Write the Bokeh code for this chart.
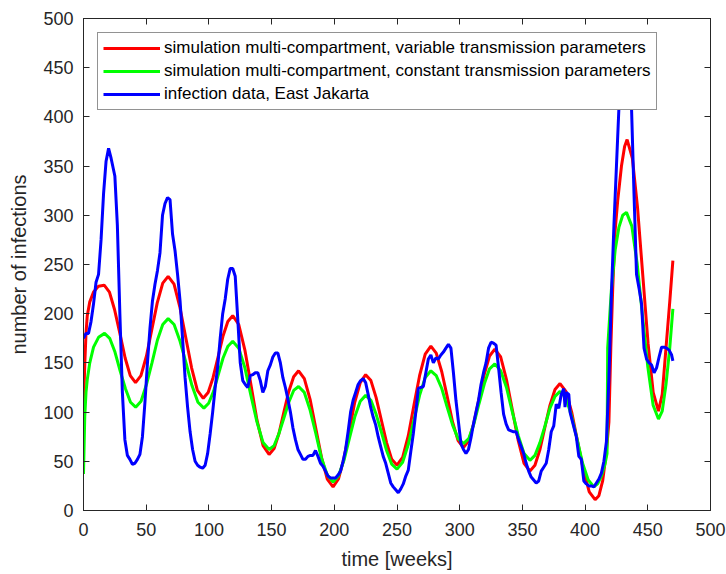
from bokeh.plotting import figure
from bokeh.models import LinearAxis, Range1d, FixedTicker, CustomJSTickFormatter
from bokeh.embed import file_html
from bokeh.resources import INLINE

# ---------------- data ----------------
red_weeks = [0, 1, 2, 3, 5, 8, 12, 16.5,
             20.7, 24.8, 29, 33.2, 37.3, 41.5,
             45.8, 50.2, 54.5, 58.8, 63.2, 67.5,
             72.2, 76.8, 81.5, 86.2, 90.8, 95.5,
             99.4, 103.3, 107.3, 111.2, 115.1, 119,
             123.8, 128.7, 133.5, 138.3, 143.2, 148,
             152, 155.8, 159.8, 163.7, 167.6, 171.5,
             176.1, 180.7, 185.3, 189.8, 194.4, 199,
             203.3, 207.7, 212, 216.3, 220.7, 225,
             229.2, 233.3, 237.5, 241.7, 245.8, 250,
             254.5, 259, 263.5, 268, 272.5, 277,
             281.3, 285.7, 290, 294.3, 298.7, 303,
             307.2, 311.3, 315.5, 319.7, 323.8, 328,
             332.7, 337.3, 342, 346.7, 351.3, 356,
             360, 364, 368, 372, 376, 380,
             384.7, 389.3, 394, 398.7, 403.3, 408,
             411, 414, 417, 419, 420.5, 422, 424, 426, 429, 431.5, 433.5,
             437.7, 441.8, 446, 450.2, 454.3, 458.5,
             461.5, 464.5, 467.5, 470]
red_values = [105, 148, 180, 198, 212, 222, 228, 229,
              222, 204, 180, 155, 137, 130,
              137, 157, 184, 211, 231, 238,
              230, 207, 176, 145, 122, 114,
              120, 135, 156, 177, 192, 198,
              189, 163, 128, 92, 66, 57,
              63, 78, 100, 121, 136, 142,
              134, 113, 83, 54, 32, 24,
              32, 53, 81, 110, 130, 138,
              132, 115, 92, 69, 52, 46,
              54, 76, 107, 137, 159, 167,
              160, 141, 116, 90, 71, 64,
              71, 89, 114, 139, 157, 164,
              156, 133, 102, 71, 48, 40,
              46, 62, 85, 107, 123, 129,
              121, 100, 70, 41, 19, 11,
              15, 30, 60, 90, 165, 225, 285, 315, 350, 370, 377,
              358, 308, 239, 170, 120, 101,
              118, 165, 212, 254]

green_weeks = [0, 1, 2, 3, 5, 8, 12, 16.8,
               20.9, 25.1, 29.2, 33.4, 37.5, 41.6,
               45.9, 50.2, 54.6, 58.9, 63.2, 67.5,
               72.25, 77, 81.75, 86.5, 91.25, 96,
               99.8, 103.7, 107.5, 111.3, 115.2, 119,
               123.8, 128.7, 133.5, 138.3, 143.2, 148,
               152, 155.8, 159.8, 163.7, 167.6, 171.5,
               176.1, 180.7, 185.3, 189.8, 194.4, 199,
               203.3, 207.7, 212, 216.3, 220.7, 225,
               229.2, 233.3, 237.5, 241.7, 245.8, 250,
               254.5, 259, 263.5, 268, 272.5, 277,
               281.3, 285.7, 290, 294.3, 298.7, 303,
               307.2, 311.3, 315.5, 319.7, 323.8, 328,
               332.7, 337.3, 342, 346.7, 351.3, 356,
               360, 364, 368, 372, 376, 380,
               384.5, 389, 393.5, 398, 402.5, 407,
               410, 413, 416, 417.5, 418, 419, 421, 424, 427, 430, 433,
               437.25, 441.5, 445.75, 450, 454.25, 458.5,
               461.5, 464.5, 467.5, 470]
green_values = [37, 95, 120, 133, 150, 166, 176, 180,
                175, 161, 142, 124, 110, 105,
                111, 128, 150, 173, 189, 195,
                189, 172, 150, 127, 110, 104,
                109, 121, 138, 155, 167, 172,
                165, 145, 117, 90, 69, 62,
                66, 78, 94, 110, 122, 126,
                120, 102, 78, 53, 36, 29,
                35, 51, 73, 95, 111, 117,
                112, 98, 80, 61, 47, 42,
                49, 67, 92, 117, 135, 142,
                137, 124, 105, 87, 73, 68,
                73, 88, 109, 129, 144, 149,
                142, 125, 100, 76, 58, 51,
                56, 69, 86, 104, 116, 121,
                115, 97, 73, 48, 31, 24,
                27, 35, 48, 58, 165, 185, 225, 265, 288, 300, 303,
                289, 251, 198, 146, 107, 93,
                101, 128, 165, 205]

blue_weeks = [0, 2, 4, 6, 8, 10, 12, 14, 16, 18,
              20, 22, 25, 27, 29, 31, 33, 35, 37, 39,
              41, 43, 45, 47, 49, 51, 53, 55, 57, 59,
              61, 63, 65, 67, 69, 71, 73, 75, 77, 79,
              81, 83, 85, 87, 89, 91, 93, 95, 97, 99,
              101, 103, 105, 107, 109, 111, 113, 115, 117, 119,
              121, 123, 125, 127, 129, 131, 133, 135, 137, 139,
              141, 143, 145, 147, 149, 151, 153, 155, 157, 159,
              161, 163, 165, 167, 169, 171, 173, 175, 177, 179,
              181, 183, 185, 187, 189, 191, 193, 195, 197, 199,
              201, 203, 205, 207, 209, 211, 213, 215, 217, 219,
              221, 223, 225, 227, 229, 231, 233, 235, 237, 239,
              241, 243, 245, 247, 249, 251, 253, 255, 257, 259,
              261, 263, 265, 267, 269, 271, 273, 275, 277, 279,
              281, 283, 285, 287, 289, 291, 293, 295, 297, 299,
              301, 303, 305, 307, 309, 311, 313, 315, 317, 319,
              321, 323, 325, 327, 329, 331, 333, 335, 337, 339,
              341, 343, 345, 347, 349, 351, 353, 355, 357, 359,
              361, 363, 365, 367, 369, 371, 373, 375, 377, 379,
              381, 383, 384, 385, 387, 388, 389, 391, 393, 395,
              397, 399, 401, 403, 405, 407, 409, 411, 413, 415,
              417, 419, 421, 423, 425, 427, 429, 431, 433, 435,
              437, 439, 441, 443, 445, 447, 449, 451, 453, 455,
              457, 459, 461, 463, 465, 467, 469, 470]
blue_values = [175, 180, 180, 192, 210, 232, 240, 275, 322, 355,
               368, 358, 340, 290, 200, 120, 72, 56, 52, 47,
               48, 52, 57, 75, 110, 150, 185, 213, 230, 244,
               262, 300, 312, 318, 316, 281, 264, 240, 213, 175,
               135, 105, 80, 62, 50, 46, 44, 43, 46, 58,
               78, 100, 125, 146, 175, 200, 215, 235, 246, 246,
               238, 195, 150, 132, 128, 125, 137, 138, 140, 140,
               132, 120, 126, 142, 148, 156, 160, 160, 150, 135,
               125, 113, 100, 84, 72, 62, 57, 52, 52, 55,
               56, 56, 61, 55, 48, 45, 40, 35, 33, 33,
               33, 36, 40, 50, 62, 80, 100, 112, 120, 128,
               132, 134, 130, 118, 105, 95, 87, 75, 65, 55,
               48, 38, 28, 24, 21, 18, 22, 27, 35, 41,
               60, 78, 100, 124, 125, 126, 140, 154, 158, 150,
               155, 154, 158, 161, 165, 169, 165, 140, 112, 90,
               68, 62, 58, 62, 74, 88, 100, 112, 128, 140,
               150, 165, 171, 170, 168, 145, 120, 98, 88, 82,
               81, 80, 80, 72, 65, 58, 48, 40, 34, 31,
               28, 30, 40, 44, 48, 62, 80, 86, 108, 104,
               118, 124, 105, 120, 118, 100, 95, 85, 75, 55,
               52, 30, 27, 25, 25, 24, 28, 32, 38, 50,
               70, 135, 220, 290, 350, 410, 445, 455, 455, 440,
               410, 322, 240, 226, 210, 165, 154, 150, 148, 140,
               145, 156, 166, 166, 165, 163, 158, 152]

series_labels = ["simulation multi-compartment, variable transmission parameters",
                 "simulation multi-compartment, constant transmission parameters",
                 "infection data, East Jakarta"]
x_ticks = list(range(0, 501, 50))
y_ticks = list(range(0, 501, 50))

FONT = "Liberation Sans"
AX = "#262626"

p = figure(width=726, height=574, output_backend="svg", toolbar_location=None,
           x_range=Range1d(0, 500), y_range=Range1d(0, 500),
           min_border_left=83, min_border_right=16, min_border_top=18, min_border_bottom=64)
p.background_fill_color = "white"
p.border_fill_color = "white"
p.outline_line_color = AX
p.outline_line_width = 1
p.xgrid.visible = False
p.ygrid.visible = False

bottom_ax = p.below[0]
left_ax = p.left[0]
bottom_ax.axis_label = "time [weeks]"
left_ax.axis_label = "number of infections"

p.line(red_weeks, red_values, line_color="#ff0000", line_width=3, legend_label=series_labels[0])
p.line(green_weeks, green_values, line_color="#00ff00", line_width=3, legend_label=series_labels[1])
p.line(blue_weeks, blue_values, line_color="#0000ff", line_width=3, legend_label=series_labels[2])

top_ax = LinearAxis(formatter=CustomJSTickFormatter(code="return '';"))
right_ax = LinearAxis(formatter=CustomJSTickFormatter(code="return '';"))
p.add_layout(top_ax, "above")
p.add_layout(right_ax, "right")

for ax in [bottom_ax, left_ax, top_ax, right_ax]:
    ax.axis_line_color = AX
    ax.major_tick_line_color = AX
    ax.major_tick_in = 6
    ax.major_tick_out = 0
    ax.minor_tick_line_color = None
    ax.major_label_text_font = FONT
    ax.major_label_text_color = AX
    ax.major_label_text_font_size = "18px"
    ax.axis_label_text_font = FONT
    ax.axis_label_text_color = AX
    ax.axis_label_text_font_size = "20px"
    ax.axis_label_text_font_style = "normal"

bottom_ax.ticker = FixedTicker(ticks=x_ticks)
top_ax.ticker = FixedTicker(ticks=x_ticks)
left_ax.ticker = FixedTicker(ticks=y_ticks)
right_ax.ticker = FixedTicker(ticks=y_ticks)
top_ax.major_label_standoff = 0
right_ax.major_label_standoff = 0

bottom_ax.major_label_standoff = 12
left_ax.major_label_standoff = 10
bottom_ax.axis_label_standoff = 9
left_ax.axis_label_standoff = 10

lg = p.legend[0]
lg.location = "top_left"
lg.margin = 14
lg.padding = 5
lg.spacing = 3
lg.glyph_width = 57
lg.glyph_height = 20
lg.label_height = 20
lg.label_standoff = 4
lg.label_text_font = FONT
lg.label_text_font_size = "17px"
lg.label_text_color = "#000000"
lg.border_line_color = AX
lg.border_line_width = 1
lg.background_fill_color = "white"
lg.background_fill_alpha = 1.0

open("out.html", "w").write(file_html(p, INLINE))
